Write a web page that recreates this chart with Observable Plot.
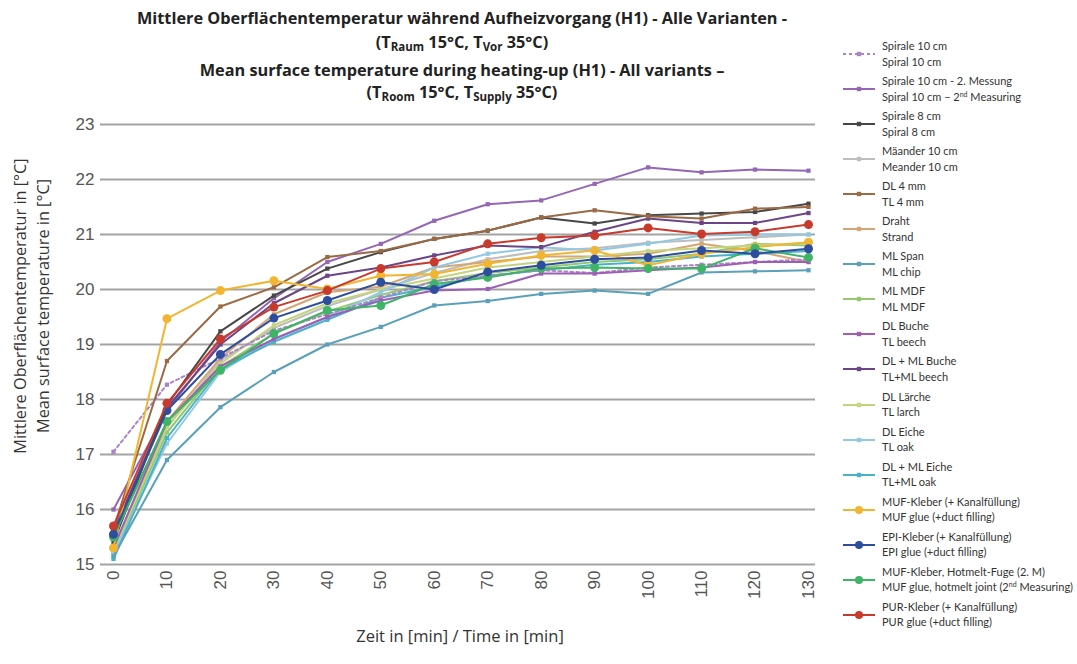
<!DOCTYPE html>
<html><head><meta charset="utf-8">
<script src="https://cdn.jsdelivr.net/npm/d3@7"></script>
<script src="https://cdn.jsdelivr.net/npm/@observablehq/plot@0.6"></script>
<style>
body{margin:0;background:#fff;}
#wrap{position:relative;width:1077px;height:664px;font-family:"Open Sans",Lato,sans-serif;overflow:hidden;}
.tl{position:absolute;left:62px;width:800px;text-align:center;font-weight:bold;font-size:16.3px;color:#222;white-space:nowrap;line-height:20px;}
.tl sub{font-size:11.5px;vertical-align:-3px;line-height:0;}
.yt{position:absolute;width:440px;text-align:center;font-size:16.3px;color:#333;transform:rotate(-90deg);white-space:nowrap;line-height:20px;}
#xt{position:absolute;left:260px;width:400px;top:624px;text-align:center;font-size:16.5px;color:#333;}
#plot{position:absolute;left:0;top:0;}
#legend{position:absolute;left:840px;top:0;width:237px;font-size:11px;color:#333;font-family:Lato,"Open Sans",sans-serif;}
.le{position:absolute;left:0;height:32px;}
.le svg{position:absolute;left:0;top:0;}
.le .t1,.le .t2{position:absolute;left:42px;white-space:nowrap;line-height:14px;}
.le sup{font-size:7px;vertical-align:4px;line-height:0;}
</style></head>
<body>
<div id="wrap">
  <div class="tl" style="top:8px">Mittlere Oberflächentemperatur während Aufheizvorgang (H1) - Alle Varianten -</div>
  <div class="tl" style="top:32px">(T<sub>Raum</sub> 15°C, T<sub>Vor</sub> 35°C)</div>
  <div class="tl" style="top:60px">Mean surface temperature during heating-up (H1) - All variants –</div>
  <div class="tl" style="top:82px">(T<sub>Room</sub> 15°C, T<sub>Supply</sub> 35°C)</div>
  <div id="plot"></div>
  <div class="yt" style="left:-200px;top:296px">Mittlere Oberflächentemperatur in [°C]</div>
  <div class="yt" style="left:-177px;top:296px">Mean surface temperature in [°C]</div>
  <div id="xt">Zeit in [min] / Time in [min]</div>
  <div id="legend"></div>
</div>
<script>
const times = [0,10,20,30,40,50,60,70,80,90,100,110,120,130];
const yTicks = [15,16,17,18,19,20,21,22,23];

const spirale10      = [17.05,18.27,18.75,19.25,19.55,19.85,20.15,20.25,20.35,20.30,20.40,20.45,20.50,20.55];
const spirale10b     = [16.00,17.80,19.05,19.84,20.50,20.83,21.25,21.55,21.62,21.92,22.22,22.13,22.18,22.16];
const spirale8       = [15.40,17.90,19.24,19.89,20.38,20.68,20.92,21.07,21.31,21.20,21.35,21.38,21.41,21.56];
const maeander10     = [15.30,17.50,18.70,19.30,19.70,20.00,20.30,20.55,20.70,20.75,20.85,20.90,20.95,21.00];
const dl4mm          = [15.65,18.70,19.69,20.04,20.59,20.70,20.92,21.07,21.31,21.44,21.33,21.29,21.47,21.50];
const draht          = [15.50,17.60,18.75,19.55,19.95,20.05,20.40,20.50,20.60,20.60,20.65,20.83,20.70,20.50];
const mlSpan         = [15.15,16.90,17.86,18.50,19.00,19.32,19.71,19.79,19.92,19.98,19.92,20.31,20.33,20.35];
const mlMdf          = [15.20,17.40,18.60,19.20,19.60,19.90,20.15,20.30,20.40,20.50,20.55,20.65,20.83,20.80];
const dlBuche        = [15.30,17.60,18.60,19.10,19.50,19.80,19.98,20.01,20.29,20.29,20.35,20.40,20.50,20.50];
const dlMlBuche      = [15.60,17.85,19.00,19.75,20.25,20.40,20.62,20.80,20.77,21.05,21.29,21.21,21.21,21.39];
const dlLaerche      = [15.25,17.50,18.65,19.35,19.75,20.00,20.20,20.40,20.50,20.60,20.70,20.75,20.80,20.85];
const dlEiche        = [15.20,17.20,18.50,19.10,19.50,19.95,20.40,20.65,20.77,20.71,20.83,20.98,21.00,21.00];
const dlMlEiche      = [15.10,17.30,18.55,19.05,19.45,19.85,20.05,20.25,20.35,20.45,20.50,20.60,20.65,20.70];
const mufKleber      = [15.30,19.47,19.98,20.16,20.01,20.25,20.28,20.47,20.62,20.71,20.44,20.65,20.77,20.86];
const epiKleber      = [15.55,17.80,18.82,19.48,19.80,20.13,20.00,20.32,20.44,20.55,20.58,20.71,20.65,20.74];
const mufHotmelt     = [15.50,17.60,18.53,19.20,19.62,19.71,20.10,20.22,20.38,20.40,20.38,20.38,20.75,20.58];
const purKleber      = [15.70,17.93,19.10,19.68,19.98,20.38,20.50,20.83,20.94,20.98,21.12,21.01,21.05,21.18];

const seriesNames = ["Spirale 10 cm","Spirale 10 cm - 2. Messung","Spirale 8 cm","Mäander 10 cm","DL 4 mm","Draht","ML Span","ML MDF","DL Buche","DL + ML Buche","DL Lärche","DL Eiche","DL + ML Eiche","MUF-Kleber (+ Kanalfüllung)","EPI-Kleber (+ Kanalfüllung)","MUF-Kleber, Hotmelt-Fuge (2. M)","PUR-Kleber (+ Kanalfüllung)"];
const seriesNamesEn = ["Spiral 10 cm","Spiral 10 cm – 2<sup>nd</sup> Measuring","Spiral 8 cm","Meander 10 cm","TL 4 mm","Strand","ML chip","ML MDF","TL beech","TL+ML beech","TL larch","TL oak","TL+ML oak","MUF glue (+duct filling)","EPI glue (+duct filling)","MUF glue, hotmelt joint (2<sup>nd</sup> Measuring)","PUR glue (+duct filling)"];
const seriesValues = [spirale10,spirale10b,spirale8,maeander10,dl4mm,draht,mlSpan,mlMdf,dlBuche,dlMlBuche,dlLaerche,dlEiche,dlMlEiche,mufKleber,epiKleber,mufHotmelt,purKleber];
const seriesColors = ["#a985c6","#9466b4","#474747","#bdbdbd","#9a6a44","#d6a574","#5aa0b8","#98c774","#9c5fb5","#6c4587","#c4d47e","#92c9e2","#47b3c9","#f2b531","#2d4e9e","#3fb466","#c83a2c"];
const bigMarker = [false,false,false,false,false,false,false,false,false,false,false,false,false,true,true,true,true];
const dashed = [true,false,false,false,false,false,false,false,false,false,false,false,false,false,false,false,false];

const rows = [];
seriesValues.forEach((vals, i) => vals.forEach((v, j) => rows.push({s: seriesNames[i], t: times[j], v, i})));
const drawOrder = [3,5,7,10,11,12,6,0,8,1,9,2,4,13,15,14,16];
const color = {domain: seriesNames, range: seriesColors};

const marks = [Plot.ruleY(yTicks, {stroke: "#a3a3a3", strokeWidth: 2})];
for (const i of drawOrder) {
  const d = rows.filter(r => r.i === i);
  marks.push(Plot.line(d, {x: "t", y: "v", stroke: "s", strokeWidth: 2, strokeDasharray: dashed[i] ? "3,3" : null}));
  marks.push(Plot.dot(d, {x: "t", y: "v", fill: "s", r: bigMarker[i] ? 4.5 : 2.4, symbol: bigMarker[i] ? "circle" : "square", stroke: "none"}));
}

const chart = Plot.plot({
  width: 820, height: 664,
  marginTop: 124, marginBottom: 100, marginLeft: 100, marginRight: 5,
  style: {fontFamily: "'Liberation Sans', Arial, sans-serif", fontSize: "17px", color: "#555", background: "transparent"},
  x: {domain: [-2.43, 131.31], ticks: times, tickSize: 0, tickPadding: 6, tickRotate: -90, label: null},
  y: {domain: [15, 23], ticks: yTicks, tickSize: 0, tickPadding: 6, label: null},
  color,
  marks
});
document.getElementById("plot").appendChild(chart);

const leg = document.getElementById("legend");
seriesNames.forEach((n, i) => {
  const top = 38 + 35.05 * i;
  const e = document.createElement("div");
  e.className = "le";
  e.style.top = top + "px";
  const r = bigMarker[i] ? 4 : 2.2;
  const mk = bigMarker[i] ? `<circle cx="19" cy="16" r="${r}" fill="${seriesColors[i]}"/>` : `<rect x="${19-r}" y="${16-r}" width="${2*r}" height="${2*r}" fill="${seriesColors[i]}"/>`;
  e.innerHTML = `<svg width="38" height="32"><line x1="3" x2="35" y1="16" y2="16" stroke="${seriesColors[i]}" stroke-width="2" ${dashed[i] ? 'stroke-dasharray="3,3"' : ''}/>${mk}</svg><div class="t1" style="top:1px">${n}</div><div class="t2" style="top:16.5px">${seriesNamesEn[i]}</div>`;
  leg.appendChild(e);
});
</script>
</body></html>
